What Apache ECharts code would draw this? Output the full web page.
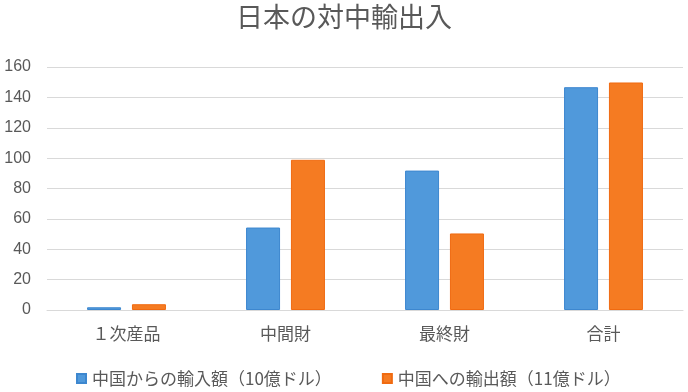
<!DOCTYPE html>
<html>
<head>
<meta charset="utf-8">
<script src="https://cdn.jsdelivr.net/npm/echarts@6/dist/echarts.min.js"></script>
<style>
html,body{margin:0;padding:0;background:#fff;}
#c{width:688px;height:392px;}
</style>
</head>
<body>
<div id="c"></div>
<script>
const titleText = '日本の対中輸出入';
const categories = ['１次産品', '中間財', '最終財', '合計'];
const seriesNames = ['中国からの輸入額（10億ドル）', '中国への輸出額（11億ドル）'];
const importValues = [1.8, 54.3, 91.8, 146.7];
const exportValues = [3.8, 98.9, 50.4, 149.8];
const yTicks = { min: 0, max: 160, interval: 20 };

const FONT = '"Noto Sans CJK JP", "Noto Sans", sans-serif';
const TXT = '#595959';

const chart = echarts.init(document.getElementById('c'), null, { renderer: 'canvas' });
chart.setOption({
  animation: false,
  backgroundColor: '#fff',
  title: {
    text: titleText,
    left: 'center',
    top: -2,
    textStyle: { fontFamily: FONT, fontSize: 27, fontWeight: 'normal', color: TXT }
  },
  legend: {
    left: 76,
    top: 370,
    padding: 0,
    itemWidth: 9,
    itemHeight: 9,
    itemGap: 50,
    icon: 'rect',
    textStyle: { fontFamily: FONT, fontSize: 17, color: TXT, padding: [0, 0, 0, 1] },
    data: seriesNames
  },
  grid: { left: 47, right: 5, top: 67, bottom: 82, containLabel: false },
  xAxis: {
    type: 'category',
    data: categories,
    axisLine: { show: true, lineStyle: { color: '#d9d9d9', width: 1 } },
    axisTick: { show: false },
    axisLabel: { fontFamily: FONT, fontSize: 17, color: TXT, margin: 15 }
  },
  yAxis: {
    type: 'value',
    min: yTicks.min,
    max: yTicks.max,
    interval: yTicks.interval,
    axisLine: { show: false },
    axisTick: { show: false },
    splitLine: { lineStyle: { color: '#d9d9d9', width: 1 } },
    axisLabel: { fontFamily: '"Liberation Sans", "Open Sans", sans-serif', fontSize: 16, color: TXT, margin: 16 }
  },
  series: [
    {
      name: seriesNames[0],
      type: 'bar',
      data: importValues,
      barWidth: 34,
      barGap: '32%',
      itemStyle: { color: '#5099db', borderColor: '#3d87cf', borderWidth: 1 }
    },
    {
      name: seriesNames[1],
      type: 'bar',
      data: exportValues,
      barWidth: 34,
      barGap: '32%',
      itemStyle: { color: '#f57b22', borderColor: '#f06a10', borderWidth: 1 }
    }
  ]
});
</script>
</body>
</html>
